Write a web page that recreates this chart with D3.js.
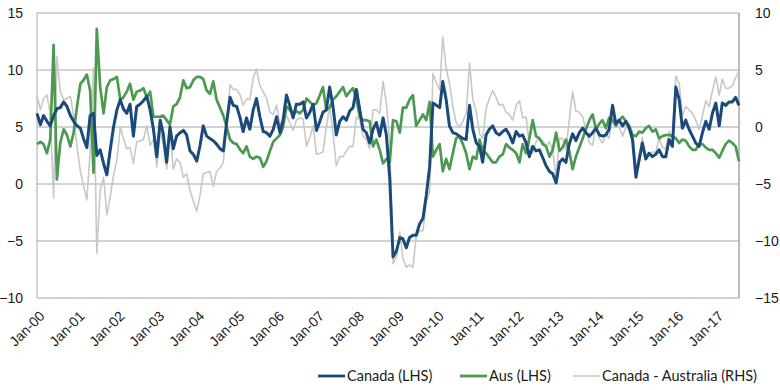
<!DOCTYPE html>
<html>
<head>
<meta charset="utf-8">
<script src="https://cdn.jsdelivr.net/npm/d3@7"></script>
<style>
  html, body { margin: 0; padding: 0; background: #fff; }
  svg { display: block; font-family: "Lato", "Noto Sans", sans-serif; }
</style>
</head>
<body>
<svg id="chart" width="780" height="390"></svg>
<script>
// Monthly series, Jan-2000 .. Aug-2017
const startYear = 2000;
const canada = [
6.2,5.2,6.0,5.5,5.1,6.0,6.6,6.7,7.2,6.8,6.0,5.5,
5.1,4.9,4.0,3.2,6.0,6.2,2.5,3.0,1.8,0.8,3.0,5.0,
6.5,7.4,6.6,6.2,7.0,4.2,6.8,7.0,7.3,7.7,6.5,4.8,
2.4,5.6,4.4,1.9,5.0,3.1,4.2,4.5,4.7,4.3,2.9,2.6,
2.0,3.4,5.1,4.2,4.0,3.8,3.5,3.1,2.9,5.4,7.6,6.9,
6.8,5.8,4.6,5.8,4.8,6.5,7.5,5.9,4.6,4.5,4.2,4.8,
5.9,4.5,5.6,7.8,6.9,5.8,7.0,7.0,7.2,5.8,6.3,7.0,
4.7,5.5,6.3,6.5,8.5,6.8,4.3,5.5,5.9,5.6,6.4,6.7,
8.3,6.5,4.8,4.5,3.6,4.8,5.4,4.2,5.8,4.3,0.5,-6.4,
-5.9,-4.7,-4.8,-5.6,-4.7,-4.5,-4.5,-3.5,-3.0,-1.0,1.5,7.1,
6.9,6.7,9.0,7.4,5.1,4.5,4.4,4.2,4.0,3.9,6.9,4.8,
3.6,3.3,1.9,4.3,4.8,5.1,4.5,4.3,4.6,4.8,4.3,3.6,
4.6,4.2,4.3,3.6,2.4,3.3,2.9,3.0,2.3,1.6,1.1,0.9,
0.1,1.9,2.2,1.9,3.5,4.4,3.8,4.5,4.9,4.5,4.2,4.5,
4.9,4.3,4.2,4.3,4.8,6.9,5.3,5.6,5.1,5.5,4.9,3.9,
0.6,2.2,3.6,2.2,2.7,2.4,2.6,3.0,2.4,2.4,3.9,3.3,
8.5,7.4,4.9,5.6,4.8,4.2,3.6,3.3,4.5,5.5,4.8,6.2,
7.1,5.1,7.1,6.9,7.2,7.2,7.6,6.9
];
const aus = [
3.5,3.7,3.5,2.7,3.9,12.2,0.4,3.6,4.8,4.3,3.3,4.5,
6.8,8.8,9.1,9.6,8.2,1.0,13.6,8.5,6.2,8.5,9.1,9.2,
9.4,7.4,7.6,8.1,8.8,7.4,8.1,8.2,8.4,7.6,8.1,5.9,
5.9,5.9,6.0,5.6,5.2,6.8,7.0,7.6,9.1,8.4,8.5,9.1,
9.4,9.4,9.2,8.2,7.9,9.0,7.4,6.7,6.0,5.0,3.9,3.6,
3.5,3.0,2.7,3.3,2.4,2.2,2.4,2.3,1.5,2.0,2.9,3.7,
4.0,4.3,5.0,6.8,6.5,6.1,6.4,6.2,6.5,7.5,7.2,6.9,
7.1,7.8,8.5,6.5,6.7,7.4,7.7,8.1,8.5,7.7,8.1,8.4,
7.4,5.9,5.6,5.6,5.5,3.3,3.9,3.0,1.8,2.2,1.9,5.6,
5.5,4.5,6.7,6.7,7.4,7.8,5.1,5.6,6.1,5.6,7.2,2.4,
3.0,3.5,1.1,2.2,1.3,2.7,4.0,4.2,3.5,2.7,1.3,2.4,
2.2,3.9,2.9,2.7,2.3,1.9,1.9,2.4,2.6,3.5,3.2,3.0,
2.7,1.9,3.5,2.7,4.0,5.6,4.2,4.0,3.5,3.3,2.4,3.0,
4.5,2.9,3.2,3.9,2.9,1.3,2.4,3.2,4.0,4.8,5.6,6.1,
4.8,5.3,5.6,4.9,5.8,5.6,5.1,5.6,5.9,5.5,5.1,4.3,
4.2,4.6,4.5,4.9,5.1,4.6,4.8,4.0,4.2,4.3,4.3,4.2,
4.0,3.6,3.9,3.8,3.3,3.0,3.0,3.5,3.5,3.2,3.0,3.0,
2.7,2.3,2.9,3.5,3.8,3.6,3.3,2.0
];
const spread = [
2.7,1.5,2.5,2.8,1.2,-6.2,6.2,3.1,2.4,2.5,2.7,1.0,
-1.7,-3.9,-5.1,-6.4,-2.2,5.2,-11.1,-5.5,-4.4,-7.7,-6.1,-4.2,
-2.9,0.0,-1.0,-1.9,-1.8,-3.2,-1.3,-1.2,-1.1,0.1,-1.6,-1.1,
-3.5,-0.3,-1.6,-3.7,-0.2,-3.7,-2.8,-3.1,-4.4,-4.1,-5.6,-6.5,
-7.4,-6.0,-4.1,-4.0,-3.9,-5.2,-3.9,-3.6,-3.1,0.4,3.7,3.3,
3.3,2.8,1.9,2.5,2.4,4.3,5.1,3.6,3.1,2.5,1.3,1.1,
1.9,0.2,0.6,1.0,0.4,-0.3,0.6,0.8,0.7,-1.7,-0.9,0.1,
-2.4,-2.3,-2.2,0.0,1.8,-0.6,-3.4,-2.6,-2.6,-2.1,-1.7,-1.7,
0.9,0.6,-0.8,-1.1,-1.9,1.5,1.5,1.2,4.0,2.1,-1.4,-12.0,
-11.4,-9.2,-11.5,-12.3,-12.1,-12.3,-9.6,-9.1,-9.1,-6.6,-5.7,4.7,
3.9,3.2,7.9,5.2,3.8,1.8,0.4,0.0,0.5,1.2,5.6,2.4,
1.4,-0.6,-1.0,1.6,2.5,3.2,2.6,1.9,2.0,1.3,1.1,0.6,
1.9,2.3,0.8,0.9,-1.6,-2.3,-1.3,-1.0,-1.2,-1.7,-1.3,-2.1,
-4.4,-1.0,-1.0,-2.0,0.6,3.1,1.4,1.3,0.9,-0.3,-1.4,-1.6,
0.1,-1.0,-1.4,-0.6,-1.0,1.3,0.2,0.0,-0.8,0.0,-0.2,-0.4,
-3.6,-2.4,-0.9,-2.7,-2.4,-2.2,-2.2,-1.0,-1.8,-1.9,-0.4,-0.9,
4.5,3.8,1.0,1.8,1.5,1.2,0.6,-0.2,1.0,2.3,1.8,3.2,
4.4,2.8,4.2,3.4,3.4,3.6,4.3,4.9
];
const leftTicks = [-10, -5, 0, 5, 10, 15];
const rightTicks = [-15, -10, -5, 0, 5, 10];
const xTickYears = d3.range(2000, 2018);
const seriesNames = ["Canada (LHS)", "Aus (LHS)", "Canada - Australia (RHS)"];
const seriesColors = ["#1b4a7a", "#4c9a50", "#c8c8c8"];

const svg = d3.select("#chart");
const L = 37, R = 739, T = 13, B = 298;

const dates = canada.map((_, i) => new Date(startYear, i, 1));
const x = d3.scaleTime().domain([dates[0], dates[dates.length - 1]]).range([L, R]);
const yL = d3.scaleLinear().domain([-10, 15]).range([B, T]);
const yR = d3.scaleLinear().domain([-15, 10]).range([B, T]);

// gridlines
svg.append("g").selectAll("line").data(leftTicks).join("line")
  .attr("x1", L).attr("x2", R)
  .attr("y1", d => yL(d)).attr("y2", d => yL(d))
  .attr("stroke", "#a6a6a6").attr("stroke-width", 1);
// vertical borders
svg.append("line").attr("x1", L).attr("x2", L).attr("y1", T).attr("y2", B)
  .attr("stroke", "#a6a6a6").attr("stroke-width", 1);
svg.append("line").attr("x1", R).attr("x2", R).attr("y1", T).attr("y2", B)
  .attr("stroke", "#a6a6a6").attr("stroke-width", 1.5);

// axes
const axL = svg.append("g").attr("transform", `translate(${L},0)`)
  .call(d3.axisLeft(yL).tickValues(leftTicks).tickSize(0).tickPadding(14));
const axR = svg.append("g").attr("transform", `translate(${R},0)`)
  .call(d3.axisRight(yR).tickValues(rightTicks).tickSize(0).tickPadding(16));
const axB = svg.append("g").attr("transform", `translate(0,${B})`)
  .call(d3.axisBottom(x).tickValues(xTickYears.map(y => new Date(y, 0, 1)))
    .tickFormat(d3.timeFormat("Jan-%y")).tickSize(0));
[axL, axR, axB].forEach(a => {
  a.select(".domain").remove();
  a.selectAll("text").attr("fill", "#1a1a1a").style("font-size", "14px");
});
axB.selectAll("text")
  .attr("text-anchor", "end")
  .attr("dy", 0).attr("y", 0)
  .attr("transform", "translate(8,19) rotate(-45)")
  .style("font-size", "14px");

// lines
const lineL = d3.line().x((d, i) => x(dates[i])).y(d => yL(d)).curve(d3.curveLinear);
const lineR = d3.line().x((d, i) => x(dates[i])).y(d => yR(d)).curve(d3.curveLinear);
svg.append("path").datum(spread).attr("d", lineR).attr("fill", "none")
  .attr("stroke", seriesColors[2]).attr("stroke-width", 1.6).attr("stroke-linejoin", "round");
svg.append("path").datum(aus).attr("d", lineL).attr("fill", "none")
  .attr("stroke", seriesColors[1]).attr("stroke-width", 2.7).attr("stroke-linejoin", "round");
svg.append("path").datum(canada).attr("d", lineL).attr("fill", "none")
  .attr("stroke", seriesColors[0]).attr("stroke-width", 3).attr("stroke-linejoin", "round");

// legend
const legX = [318, 460, 573];
const legY = 376;
const leg = svg.append("g");
seriesNames.forEach((n, k) => {
  leg.append("line").attr("x1", legX[k]).attr("x2", legX[k] + 27)
    .attr("y1", legY).attr("y2", legY)
    .attr("stroke", seriesColors[k]).attr("stroke-width", k === 2 ? 1.6 : 2.8);
  leg.append("text").attr("x", legX[k] + 29).attr("y", legY + 5)
    .attr("fill", "#1a1a1a").style("font-size", "14.5px").text(n);
});
</script>
</body>
</html>
